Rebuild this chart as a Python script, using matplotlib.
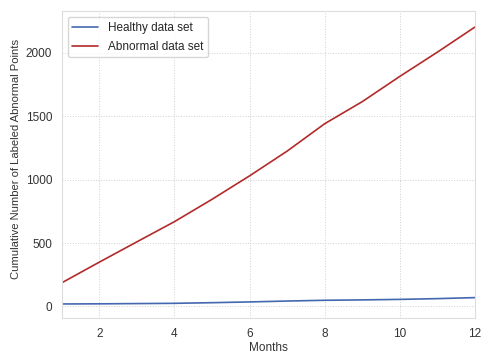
import matplotlib
matplotlib.use("Agg")
import matplotlib.pyplot as plt
import seaborn as sns

months = [1, 2, 3, 4, 5, 6, 7, 8, 9, 10, 11, 12]
healthy = [20, 21, 23, 25, 30, 36, 43, 49, 52, 56, 62, 70]
abnormal = [187, 350, 510, 669, 845, 1030, 1225, 1441, 1615, 1814, 2005, 2203]

sns.set_style("whitegrid", {"grid.linestyle": ":"})
plt.rcParams["font.family"] = ["Liberation Sans", "DejaVu Sans"]

fig, ax = plt.subplots(figsize=(4.83, 3.56), dpi=100)
ax.plot(months, healthy, color="#4468b0", lw=1.2, label="Healthy data set")
ax.plot(months, abnormal, color="#b22a2a", lw=1.2, label="Abnormal data set")
ax.set_xlim(1, 12)
ax.set_ylim(-90, 2330)
ax.set_xticks([2, 4, 6, 8, 10, 12])
ax.set_yticks([0, 500, 1000, 1500, 2000])
ax.grid(True, color="#d0d0d0", lw=0.7, ls=":")
ax.tick_params(labelsize=8.5, colors="#333333")
ax.set_xlabel("Months", fontsize=8.5, color="#333333", labelpad=2)
ax.set_ylabel("Cumulative Number of Labeled Abnormal Points", fontsize=8.1, color="#333333")
ax.yaxis.set_label_coords(-0.100, 0.518)
ax.legend(loc="upper left", fontsize=8.5, frameon=True, handlelength=2.2, labelspacing=0.6)
for s in ax.spines.values():
    s.set_color("#dddddd")
fig.subplots_adjust(left=0.128, right=0.983, top=0.969, bottom=0.107)
fig.savefig("out.png", dpi=100)
